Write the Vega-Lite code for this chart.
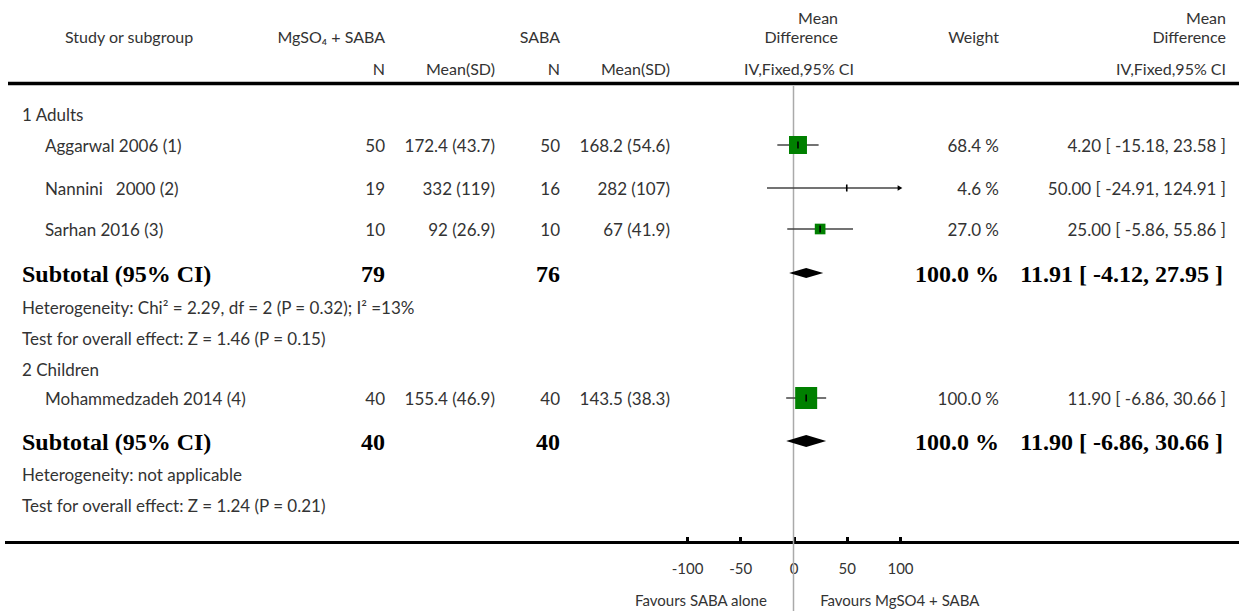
{
  "$schema": "https://vega.github.io/schema/vega-lite/v6.json",
  "padding": 0,
  "autosize": {"type": "pad"},
  "background": "white",
  "spacing": 0,
  "bounds": "flush",
  "config": {
    "view": {"stroke": null},
    "text": {"font": "Lato", "fontSize": 17, "color": "#333", "baseline": "middle", "dy": 1.5},
    "axisX": {"domain": false, "grid": false, "ticks": true, "tickSize": -6, "tickWidth": 3, "tickColor": "#000",
              "labelFont": "Lato", "labelFontSize": 15, "labelColor": "#333", "labelPadding": 24.5, "labelFlush": false,
              "offset": -68.5, "tickCount": 5, "labelExpr": "'' + datum.value"}
  },
  "datasets": {
    "header": [
      {"study": "Study or subgroup", "g1": "MgSO₄ + SABA", "g2": "SABA", "n": "N", "msd": "Mean(SD)", "mean": "Mean", "diff": "Difference", "iv": "IV,Fixed,95% CI", "weight": "Weight", "favl": "Favours SABA alone", "favr": "Favours MgSO4 + SABA"}
    ],
    "studies": [
      {"study": "Aggarwal 2006 (1)", "n1": 50, "m1": "172.4 (43.7)", "n2": 50, "m2": "168.2 (54.6)", "md": 4.2, "lo": -15.18, "hi": 23.58, "w": 68.4, "wt": "68.4 %", "ci": "4.20 [ -15.18, 23.58 ]", "line": 14.5},
      {"study": "Nannini\u00a0\u00a0 2000 (2)", "n1": 19, "m1": "332 (119)", "n2": 16, "m2": "282 (107)", "md": 50, "lo": -24.91, "hi": 124.91, "w": 4.6, "wt": "4.6 %", "ci": "50.00 [ -24.91, 124.91 ]", "line": 18.8},
      {"study": "Sarhan 2016 (3)", "n1": 10, "m1": "92 (26.9)", "n2": 10, "m2": "67 (41.9)", "md": 25, "lo": -5.86, "hi": 55.86, "w": 27.0, "wt": "27.0 %", "ci": "25.00 [ -5.86, 55.86 ]", "line": 22.9},
      {"study": "Mohammedzadeh 2014 (4)", "n1": 40, "m1": "155.4 (46.9)", "n2": 40, "m2": "143.5 (38.3)", "md": 11.9, "lo": -6.86, "hi": 30.66, "w": 100, "wt": "100.0 %", "ci": "11.90 [ -6.86, 30.66 ]", "line": 39.8}
    ],
    "subtotals": [
      {"label": "Subtotal (95% CI)", "n1": 79, "n2": 76, "md": 11.91, "lo": -4.12, "hi": 27.95, "ciw": 32.07, "wt": "100.0 %", "ci": "11.91 [ -4.12, 27.95 ]", "line": 27.3},
      {"label": "Subtotal (95% CI)", "n1": 40, "n2": 40, "md": 11.9, "lo": -6.86, "hi": 30.66, "ciw": 37.52, "wt": "100.0 %", "ci": "11.90 [ -6.86, 30.66 ]", "line": 44.1}
    ],
    "notes": [
      {"text": "1 Adults", "line": 11.4},
      {"text": "Heterogeneity: Chi² = 2.29, df = 2 (P = 0.32); I² =13%", "line": 30.7},
      {"text": "Test for overall effect: Z = 1.46 (P = 0.15)", "line": 33.8},
      {"text": "2 Children", "line": 36.9},
      {"text": "Heterogeneity: not applicable", "line": 47.4},
      {"text": "Test for overall effect: Z = 1.24 (P = 0.21)", "line": 50.5}
    ]
  },
  "hconcat": [
    {
      "width": 687,
      "height": 611,
      "layer": [
        {"data": {"name": "header"}, "mark": {"type": "rule", "strokeWidth": 3.5, "color": "#000"},
         "encoding": {"x": {"datum": 8, "scale": {"domain": [0, 687]}, "axis": null}, "x2": {"datum": 687},
                      "y": {"datum": 8.35, "scale": {"domain": [0, 61.1], "reverse": true}, "axis": null}}},
        {"data": {"name": "header"}, "mark": {"type": "rule", "strokeWidth": 3, "color": "#000"},
         "encoding": {"x": {"datum": 5, "scale": {"domain": [0, 687]}, "axis": null}, "x2": {"datum": 687},
                      "y": {"datum": 54.25, "scale": {"domain": [0, 61.1], "reverse": true}, "axis": null}}},
        {"data": {"name": "header"}, "mark": {"type": "text", "align": "left", "fontSize": 16},
         "encoding": {"x": {"datum": 65, "scale": {"domain": [0, 687]}, "axis": null},
                      "y": {"datum": 3.6, "scale": {"domain": [0, 61.1], "reverse": true}, "axis": null},
                      "text": {"field": "study"}}},
        {"data": {"name": "header"}, "mark": {"type": "text", "align": "right", "fontSize": 16},
         "encoding": {"x": {"datum": 385, "scale": {"domain": [0, 687]}, "axis": null},
                      "y": {"datum": 3.6, "scale": {"domain": [0, 61.1], "reverse": true}, "axis": null},
                      "text": {"field": "g1"}}},
        {"data": {"name": "header"}, "mark": {"type": "text", "align": "right", "fontSize": 16},
         "encoding": {"x": {"datum": 385, "scale": {"domain": [0, 687]}, "axis": null},
                      "y": {"datum": 6.8, "scale": {"domain": [0, 61.1], "reverse": true}, "axis": null},
                      "text": {"field": "n"}}},
        {"data": {"name": "header"}, "mark": {"type": "text", "align": "right", "fontSize": 16},
         "encoding": {"x": {"datum": 495, "scale": {"domain": [0, 687]}, "axis": null},
                      "y": {"datum": 6.8, "scale": {"domain": [0, 61.1], "reverse": true}, "axis": null},
                      "text": {"field": "msd"}}},
        {"data": {"name": "header"}, "mark": {"type": "text", "align": "right", "fontSize": 16},
         "encoding": {"x": {"datum": 560, "scale": {"domain": [0, 687]}, "axis": null},
                      "y": {"datum": 3.6, "scale": {"domain": [0, 61.1], "reverse": true}, "axis": null},
                      "text": {"field": "g2"}}},
        {"data": {"name": "header"}, "mark": {"type": "text", "align": "right", "fontSize": 16},
         "encoding": {"x": {"datum": 560, "scale": {"domain": [0, 687]}, "axis": null},
                      "y": {"datum": 6.8, "scale": {"domain": [0, 61.1], "reverse": true}, "axis": null},
                      "text": {"field": "n"}}},
        {"data": {"name": "header"}, "mark": {"type": "text", "align": "right", "fontSize": 16},
         "encoding": {"x": {"datum": 670, "scale": {"domain": [0, 687]}, "axis": null},
                      "y": {"datum": 6.8, "scale": {"domain": [0, 61.1], "reverse": true}, "axis": null},
                      "text": {"field": "msd"}}},
        {"data": {"name": "notes"}, "mark": {"type": "text", "align": "left"},
         "encoding": {"x": {"datum": 22, "scale": {"domain": [0, 687]}, "axis": null},
                      "y": {"field": "line", "type": "quantitative", "scale": {"domain": [0, 61.1], "reverse": true}, "axis": null},
                      "text": {"field": "text"}}},
        {"data": {"name": "studies"}, "mark": {"type": "text", "align": "left"},
         "encoding": {"x": {"datum": 45, "scale": {"domain": [0, 687]}, "axis": null},
                      "y": {"field": "line", "type": "quantitative", "scale": {"domain": [0, 61.1], "reverse": true}, "axis": null},
                      "text": {"field": "study"}}},
        {"data": {"name": "studies"}, "mark": {"type": "text", "align": "right"},
         "encoding": {"x": {"datum": 385, "scale": {"domain": [0, 687]}, "axis": null},
                      "y": {"field": "line", "type": "quantitative", "scale": {"domain": [0, 61.1], "reverse": true}, "axis": null},
                      "text": {"field": "n1"}}},
        {"data": {"name": "studies"}, "mark": {"type": "text", "align": "right"},
         "encoding": {"x": {"datum": 495, "scale": {"domain": [0, 687]}, "axis": null},
                      "y": {"field": "line", "type": "quantitative", "scale": {"domain": [0, 61.1], "reverse": true}, "axis": null},
                      "text": {"field": "m1"}}},
        {"data": {"name": "studies"}, "mark": {"type": "text", "align": "right"},
         "encoding": {"x": {"datum": 560, "scale": {"domain": [0, 687]}, "axis": null},
                      "y": {"field": "line", "type": "quantitative", "scale": {"domain": [0, 61.1], "reverse": true}, "axis": null},
                      "text": {"field": "n2"}}},
        {"data": {"name": "studies"}, "mark": {"type": "text", "align": "right"},
         "encoding": {"x": {"datum": 670, "scale": {"domain": [0, 687]}, "axis": null},
                      "y": {"field": "line", "type": "quantitative", "scale": {"domain": [0, 61.1], "reverse": true}, "axis": null},
                      "text": {"field": "m2"}}},
        {"data": {"name": "subtotals"}, "mark": {"type": "text", "align": "left", "font": "Liberation Serif", "fontWeight": "bold", "fontSize": 24, "color": "#000"},
         "encoding": {"x": {"datum": 22, "scale": {"domain": [0, 687]}, "axis": null},
                      "y": {"field": "line", "type": "quantitative", "scale": {"domain": [0, 61.1], "reverse": true}, "axis": null},
                      "text": {"field": "label"}}},
        {"data": {"name": "subtotals"}, "mark": {"type": "text", "align": "right", "font": "Liberation Serif", "fontWeight": "bold", "fontSize": 24, "color": "#000"},
         "encoding": {"x": {"datum": 385, "scale": {"domain": [0, 687]}, "axis": null},
                      "y": {"field": "line", "type": "quantitative", "scale": {"domain": [0, 61.1], "reverse": true}, "axis": null},
                      "text": {"field": "n1"}}},
        {"data": {"name": "subtotals"}, "mark": {"type": "text", "align": "right", "font": "Liberation Serif", "fontWeight": "bold", "fontSize": 24, "color": "#000"},
         "encoding": {"x": {"datum": 560, "scale": {"domain": [0, 687]}, "axis": null},
                      "y": {"field": "line", "type": "quantitative", "scale": {"domain": [0, 61.1], "reverse": true}, "axis": null},
                      "text": {"field": "n2"}}}
      ]
    },
    {
      "width": 213,
      "height": 611,
      "resolve": {"scale": {"size": "independent"}},
      "layer": [
        {"data": {"name": "header"}, "mark": {"type": "rule", "strokeWidth": 3.5, "color": "#000"},
         "encoding": {"y": {"datum": 8.35, "scale": {"domain": [0, 61.1], "reverse": true}, "axis": null}}},
        {"data": {"name": "header"}, "mark": {"type": "rule", "strokeWidth": 3, "color": "#000"},
         "encoding": {"y": {"datum": 54.25, "scale": {"domain": [0, 61.1], "reverse": true}, "axis": null}}},
        {"data": {"name": "header"}, "mark": {"type": "rule", "strokeWidth": 1.5, "color": "#aaa"},
         "encoding": {"x": {"datum": 0, "scale": {"domain": [-100, 100], "clamp": true}, "title": null},
                      "y": {"datum": 8.6, "scale": {"domain": [0, 61.1], "reverse": true}, "axis": null},
                      "y2": {"datum": 61.1}}},
        {"data": {"name": "studies"}, "mark": {"type": "rule", "strokeWidth": 1.3, "color": "#444"},
         "encoding": {"x": {"field": "lo", "type": "quantitative", "scale": {"domain": [-100, 100], "clamp": true}, "title": null},
                      "x2": {"field": "hi"},
                      "y": {"field": "line", "type": "quantitative", "scale": {"domain": [0, 61.1], "reverse": true}, "axis": null}}},
        {"data": {"name": "studies"}, "mark": {"type": "point", "shape": "square", "filled": true, "color": "#008000", "opacity": 1},
         "encoding": {"x": {"field": "md", "type": "quantitative", "scale": {"domain": [-100, 100], "clamp": true}, "title": null},
                      "y": {"field": "line", "type": "quantitative", "scale": {"domain": [0, 61.1], "reverse": true}, "axis": null},
                      "size": {"field": "w", "type": "quantitative", "scale": {"domain": [4.6, 100], "range": [0, 484]}, "legend": null}}},
        {"data": {"name": "studies"}, "mark": {"type": "point", "shape": "M0,-1L0,1", "filled": false, "stroke": "#000", "strokeWidth": 1.6, "size": 49, "opacity": 1},
         "encoding": {"x": {"field": "md", "type": "quantitative", "scale": {"domain": [-100, 100], "clamp": true}, "title": null},
                      "y": {"field": "line", "type": "quantitative", "scale": {"domain": [0, 61.1], "reverse": true}, "axis": null}}},
        {"data": {"name": "studies"}, "transform": [{"filter": "datum.hi > 100"}],
         "mark": {"type": "point", "shape": "triangle-right", "filled": true, "color": "#000", "size": 30, "opacity": 1},
         "encoding": {"x": {"field": "hi", "type": "quantitative", "scale": {"domain": [-100, 100], "clamp": true}, "title": null},
                      "y": {"field": "line", "type": "quantitative", "scale": {"domain": [0, 61.1], "reverse": true}, "axis": null}}},
        {"data": {"name": "subtotals"}, "mark": {"type": "point", "shape": "M-1,0L0,-0.3L1,0L0,0.3Z", "filled": true, "color": "#000", "opacity": 1},
         "encoding": {"x": {"field": "md", "type": "quantitative", "scale": {"domain": [-100, 100], "clamp": true}, "title": null},
                      "y": {"field": "line", "type": "quantitative", "scale": {"domain": [0, 61.1], "reverse": true}, "axis": null},
                      "size": {"field": "ciw", "type": "quantitative", "scale": {"type": "pow", "exponent": 2, "domain": [0, 40], "range": [0, 1815]}, "legend": null}}},
        {"data": {"name": "header"}, "mark": {"type": "text", "align": "right", "fontSize": 16},
         "encoding": {"x": {"datum": 41.8, "scale": {"domain": [-100, 100], "clamp": true}, "title": null},
                      "y": {"datum": 1.75, "scale": {"domain": [0, 61.1], "reverse": true}, "axis": null},
                      "text": {"field": "mean"}}},
        {"data": {"name": "header"}, "mark": {"type": "text", "align": "right", "fontSize": 16},
         "encoding": {"x": {"datum": 41.8, "scale": {"domain": [-100, 100], "clamp": true}, "title": null},
                      "y": {"datum": 3.6, "scale": {"domain": [0, 61.1], "reverse": true}, "axis": null},
                      "text": {"field": "diff"}}},
        {"data": {"name": "header"}, "mark": {"type": "text", "align": "center", "fontSize": 16},
         "encoding": {"x": {"datum": 5.2, "scale": {"domain": [-100, 100], "clamp": true}, "title": null},
                      "y": {"datum": 6.8, "scale": {"domain": [0, 61.1], "reverse": true}, "axis": null},
                      "text": {"field": "iv"}}},
        {"data": {"name": "header"}, "mark": {"type": "text", "align": "right", "fontSize": 15},
         "encoding": {"x": {"datum": -25, "scale": {"domain": [-100, 100], "clamp": true}, "title": null},
                      "y": {"datum": 59.9, "scale": {"domain": [0, 61.1], "reverse": true}, "axis": null},
                      "text": {"field": "favl"}}},
        {"data": {"name": "header"}, "mark": {"type": "text", "align": "left", "fontSize": 15},
         "encoding": {"x": {"datum": 25, "scale": {"domain": [-100, 100], "clamp": true}, "title": null},
                      "y": {"datum": 59.9, "scale": {"domain": [0, 61.1], "reverse": true}, "axis": null},
                      "text": {"field": "favr"}}}
      ]
    },
    {
      "width": 339,
      "height": 611,
      "layer": [
        {"data": {"name": "header"}, "mark": {"type": "rule", "strokeWidth": 3.5, "color": "#000"},
         "encoding": {"y": {"datum": 8.35, "scale": {"domain": [0, 61.1], "reverse": true}, "axis": null}}},
        {"data": {"name": "header"}, "mark": {"type": "rule", "strokeWidth": 3, "color": "#000"},
         "encoding": {"y": {"datum": 54.25, "scale": {"domain": [0, 61.1], "reverse": true}, "axis": null}}},
        {"data": {"name": "header"}, "mark": {"type": "text", "align": "right", "fontSize": 16},
         "encoding": {"x": {"datum": 99, "scale": {"domain": [0, 339]}, "axis": null},
                      "y": {"datum": 3.6, "scale": {"domain": [0, 61.1], "reverse": true}, "axis": null},
                      "text": {"field": "weight"}}},
        {"data": {"name": "header"}, "mark": {"type": "text", "align": "right", "fontSize": 16},
         "encoding": {"x": {"datum": 326, "scale": {"domain": [0, 339]}, "axis": null},
                      "y": {"datum": 1.75, "scale": {"domain": [0, 61.1], "reverse": true}, "axis": null},
                      "text": {"field": "mean"}}},
        {"data": {"name": "header"}, "mark": {"type": "text", "align": "right", "fontSize": 16},
         "encoding": {"x": {"datum": 326, "scale": {"domain": [0, 339]}, "axis": null},
                      "y": {"datum": 3.6, "scale": {"domain": [0, 61.1], "reverse": true}, "axis": null},
                      "text": {"field": "diff"}}},
        {"data": {"name": "header"}, "mark": {"type": "text", "align": "right", "fontSize": 16},
         "encoding": {"x": {"datum": 326, "scale": {"domain": [0, 339]}, "axis": null},
                      "y": {"datum": 6.8, "scale": {"domain": [0, 61.1], "reverse": true}, "axis": null},
                      "text": {"field": "iv"}}},
        {"data": {"name": "studies"}, "mark": {"type": "text", "align": "right"},
         "encoding": {"x": {"datum": 99, "scale": {"domain": [0, 339]}, "axis": null},
                      "y": {"field": "line", "type": "quantitative", "scale": {"domain": [0, 61.1], "reverse": true}, "axis": null},
                      "text": {"field": "wt"}}},
        {"data": {"name": "studies"}, "mark": {"type": "text", "align": "right"},
         "encoding": {"x": {"datum": 326, "scale": {"domain": [0, 339]}, "axis": null},
                      "y": {"field": "line", "type": "quantitative", "scale": {"domain": [0, 61.1], "reverse": true}, "axis": null},
                      "text": {"field": "ci"}}},
        {"data": {"name": "subtotals"}, "mark": {"type": "text", "align": "right", "font": "Liberation Serif", "fontWeight": "bold", "fontSize": 24, "color": "#000"},
         "encoding": {"x": {"datum": 99, "scale": {"domain": [0, 339]}, "axis": null},
                      "y": {"field": "line", "type": "quantitative", "scale": {"domain": [0, 61.1], "reverse": true}, "axis": null},
                      "text": {"field": "wt"}}},
        {"data": {"name": "subtotals"}, "mark": {"type": "text", "align": "right", "font": "Liberation Serif", "fontWeight": "bold", "fontSize": 24, "color": "#000"},
         "encoding": {"x": {"datum": 323, "scale": {"domain": [0, 339]}, "axis": null},
                      "y": {"field": "line", "type": "quantitative", "scale": {"domain": [0, 61.1], "reverse": true}, "axis": null},
                      "text": {"field": "ci"}}}
      ]
    }
  ]
}
